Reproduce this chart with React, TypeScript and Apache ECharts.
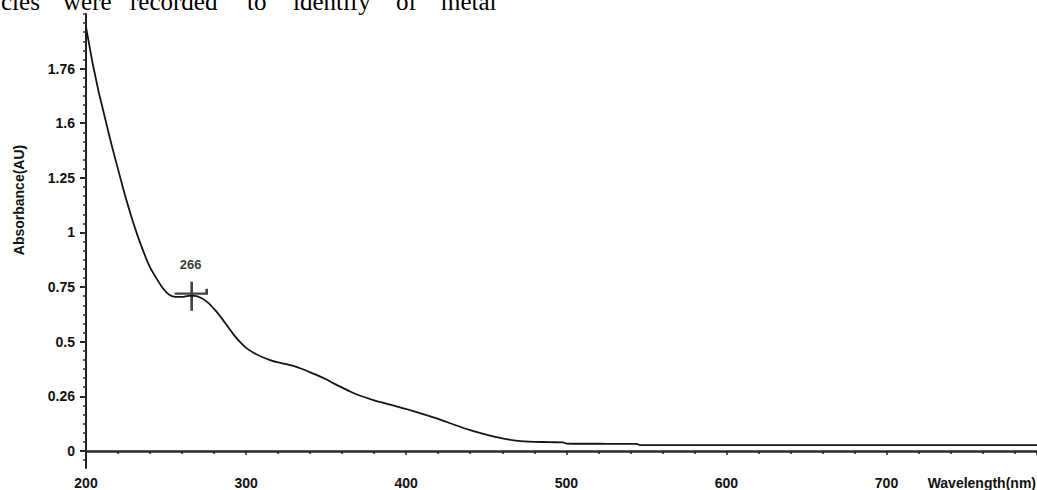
import React, { useEffect, useRef } from "react";
import * as echarts from "echarts";

// ---- data ----
const wavelengths = [
  200, 202, 204, 206, 208, 210, 212, 216, 220, 224, 228, 232, 236, 240, 244, 248,
  252, 256, 260, 264, 268, 272, 276, 280, 284, 288, 292, 296, 300, 305, 310, 315,
  320, 325, 330, 335, 340, 345, 350, 355, 360, 365, 370, 380, 390, 400, 410, 420, 430,
  440, 450, 460, 470, 480, 490, 498, 500, 520, 544, 546, 600, 650, 700, 750, 794,
];
const absorbance = [
  1.94, 1.86, 1.78, 1.71, 1.64, 1.58, 1.52, 1.40, 1.29, 1.18, 1.08, 0.99, 0.91, 0.84, 0.79, 0.745,
  0.715, 0.705, 0.705, 0.71, 0.71, 0.70, 0.68, 0.65, 0.615, 0.575, 0.535, 0.5, 0.472, 0.448, 0.43, 0.416,
  0.405, 0.398, 0.388, 0.375, 0.36, 0.345, 0.328, 0.308, 0.29, 0.272, 0.256, 0.232, 0.212, 0.192, 0.17, 0.147, 0.12,
  0.095, 0.075, 0.058, 0.046, 0.042, 0.040, 0.039, 0.034, 0.033, 0.032, 0.027, 0.027, 0.027, 0.027, 0.027, 0.027,
];
const peakWavelength = [266];
const peakAbsorbance = [0.72];
const peakLabels = ["266"];

const yTickValues = [0, 0.25, 0.5, 0.75, 1, 1.25, 1.5, 1.75];
const yTickLabels = ["0", "0.26", "0.5", "0.75", "1", "1.25", "1.6", "1.76"];
const xTickLabels = ["200", "300", "400", "500", "600", "700"];

const xAxisTitle = "Wavelength(nm)";
const yAxisTitle = "Absorbance(AU)";
const headerWords = ["cies", "were", "recorded", "to", "identify", "of", "metal"];

const Y_MIN = -0.078;
const Y_MAX = 2.0;
const X_MIN = 200;
const X_MAX = 794;

export default function App() {
  const ref = useRef<HTMLDivElement>(null);

  useEffect(() => {
    if (!ref.current) return;
    const chart = echarts.init(ref.current, undefined, { renderer: "svg" });

    const minorY: number[] = [];
    for (let k = -1; k <= 48; k++) minorY.push(+(k * (0.25 / 6)).toFixed(5));

    const lineData = wavelengths.map((w, i) => [w, absorbance[i]]);
    const peakData = peakWavelength.map((w, i) => [w, peakAbsorbance[i]]);

    const labelFont = {
      fontFamily: "Liberation Sans, Arial, sans-serif",
      fontWeight: "bold" as const,
      fontSize: 14,
      color: "#111",
    };

    const headerX = [1, 63, 130, 247, 293, 396, 441];

    chart.setOption({
      animation: false,
      backgroundColor: "#ffffff",
      grid: { left: 86, right: 0, top: 14, bottom: 21, containLabel: false },
      xAxis: {
        type: "value",
        min: X_MIN,
        max: X_MAX,
        interval: 100,
        axisLine: { show: true, lineStyle: { color: "#2a2a2a", width: 2.5 } },
        axisTick: { show: true, length: 4, lineStyle: { color: "#222", width: 1.5 } },
        minorTick: { show: true, splitNumber: 5, length: 3, lineStyle: { color: "#222", width: 1.5 } },
        splitLine: { show: false },
        axisLabel: {
          ...labelFont,
          margin: 8,
          showMaxLabel: false,
          formatter: (v: number) => {
            const idx = Math.round((v - X_MIN) / 100);
            return Math.abs(v - (X_MIN + idx * 100)) < 1e-6 && xTickLabels[idx] ? xTickLabels[idx] : "";
          },
        },
      },
      yAxis: [
        {
          type: "value",
          min: Y_MIN,
          max: Y_MAX,
          axisLine: { show: true, lineStyle: { color: "#222", width: 2 } },
          axisTick: { show: true, length: 6, customValues: yTickValues, lineStyle: { color: "#222", width: 2 } },
          splitLine: { show: false },
          axisLabel: {
            ...labelFont,
            margin: 11,
            customValues: yTickValues,
            formatter: (v: number) => {
              const i = yTickValues.findIndex((t) => Math.abs(t - v) < 1e-6);
              return i >= 0 ? yTickLabels[i] : "";
            },
          },
        },
        {
          type: "value",
          min: Y_MIN,
          max: Y_MAX,
          position: "left",
          axisLine: { show: false },
          axisLabel: { show: false },
          splitLine: { show: false },
          axisTick: { show: true, length: 3, customValues: minorY, lineStyle: { color: "#333", width: 1.5 } },
        },
      ],
      graphic: [
        ...headerWords.map((w, i) => ({
          type: "text",
          x: headerX[i],
          y: 14,
          style: {
            text: w,
            fontFamily: "Liberation Serif, Times New Roman, serif",
            fontSize: 25,
            fill: "#000",
            textAlign: "left",
            textVerticalAlign: "bottom",
          },
        })),
        {
          type: "text",
          x: 19,
          y: 200,
          rotation: Math.PI / 2,
          style: {
            text: yAxisTitle,
            fontFamily: "Liberation Sans, Arial, sans-serif",
            fontWeight: "bold",
            fontSize: 14,
            fill: "#111",
            textAlign: "center",
            textVerticalAlign: "middle",
          },
        },
        {
          type: "text",
          x: 1036,
          y: 483,
          style: {
            text: xAxisTitle,
            fontFamily: "Liberation Sans, Arial, sans-serif",
            fontWeight: "bold",
            fontSize: 14,
            fill: "#111",
            textAlign: "right",
            textVerticalAlign: "middle",
          },
        },
      ],
      series: [
        {
          type: "line",
          data: lineData,
          yAxisIndex: 0,
          showSymbol: false,
          smooth: 0.2,
          lineStyle: { color: "#151515", width: 1.8 },
          z: 2,
        },
        {
          type: "scatter",
          data: peakData,
          yAxisIndex: 0,
          symbol: "path://M0 12 H32 V7 M17 0 V29",
          symbolSize: [32, 29],
          symbolOffset: [-1, 2.5],
          itemStyle: { color: "none", borderColor: "#111", borderWidth: 2.5 },
          label: {
            show: true,
            position: "top",
            distance: 8,
            formatter: (p: any) => peakLabels[p.dataIndex],
            ...labelFont,
            color: "#000",
            fontSize: 13,
          },
          z: 3,
        },
      ],
    });

    return () => chart.dispose();
  }, []);

  return (
    <div
      ref={ref}
      style={{ position: "absolute", left: 0, top: 0, width: 1037, height: 490, background: "#fff" }}
    />
  );
}
